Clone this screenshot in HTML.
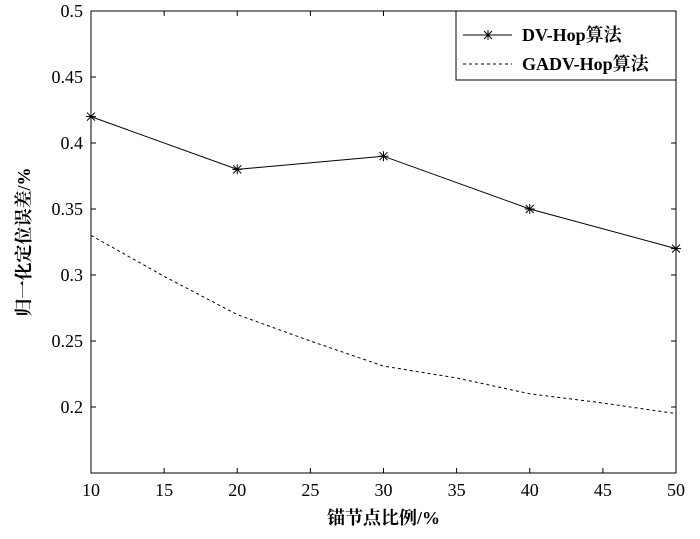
<!DOCTYPE html>
<html><head><meta charset="utf-8"><style>
body{margin:0;background:#fff}
svg text{font-family:"Liberation Serif","Noto Serif CJK SC",serif;fill:#000}
</style></head><body>
<svg width="700" height="534" xmlns="http://www.w3.org/2000/svg">
<g id="plot"></g>
</svg>
<script>
const xCats=[10,20,30,40,50];
const dvHop=[0.42,0.38,0.39,0.35,0.32];
const gaX=[10,15,20,25,30,35,40,45,50];
const gadvHop=[0.33,0.299,0.27,0.25,0.231,0.222,0.21,0.203,0.195];
const xTicks=[10,15,20,25,30,35,40,45,50];
const yTicks=[0.2,0.25,0.3,0.35,0.4,0.45,0.5];
const L=91,R=676,T=11,B=473,xMin=10,xMax=50,yMin=0.15,yMax=0.5;
const sx=v=>L+(v-xMin)/(xMax-xMin)*(R-L);
const sy=v=>B-(v-yMin)/(yMax-yMin)*(B-T);
const g=document.getElementById('plot');
const NS='http://www.w3.org/2000/svg';
function mk(t,a,txt){const e=document.createElementNS(NS,t);for(const k in a)e.setAttribute(k,a[k]);if(txt!==undefined)e.textContent=txt;g.appendChild(e);return e;}
let e=mk('rect',{x:L,y:T,width:R-L,height:B-T,fill:'none',stroke:'#000','stroke-width':1});


xTicks.forEach(v=>{
 mk('line',{x1:sx(v),x2:sx(v),y1:B,y2:B-5,stroke:'#000'});
 mk('line',{x1:sx(v),x2:sx(v),y1:T,y2:T+5,stroke:'#000'});
 const t=mk('text',{x:sx(v),y:B+23,'text-anchor':'middle','font-size':18},String(v));
 
 
});
yTicks.concat([0.15]).forEach(v=>{
 mk('line',{x1:L,x2:L+5,y1:sy(v),y2:sy(v),stroke:'#000'});
 mk('line',{x1:R,x2:R-5,y1:sy(v),y2:sy(v),stroke:'#000'});
});
yTicks.forEach(v=>{
 const t=mk('text',{x:L-8,y:sy(v)+6,'text-anchor':'end','font-size':18},String(v));
 
 
});
let p=mk('polyline',{points:xCats.map((x,i)=>sx(x)+','+sy(dvHop[i])).join(' '),fill:'none',stroke:'#000','stroke-width':1});


function star(cx,cy){const s=5;
 mk('line',{x1:cx-s,x2:cx+s,y1:cy,y2:cy,stroke:'#000'});
 mk('line',{x1:cx,x2:cx,y1:cy-s,y2:cy+s,stroke:'#000'});
 mk('line',{x1:cx-4,x2:cx+4,y1:cy-4,y2:cy+4,stroke:'#000'});
 mk('line',{x1:cx-4,x2:cx+4,y1:cy+4,y2:cy-4,stroke:'#000'});}
xCats.forEach((x,i)=>star(sx(x),sy(dvHop[i])));
let q=mk('polyline',{points:gaX.map((x,i)=>sx(x)+','+sy(gadvHop[i])).join(' '),fill:'none',stroke:'#000','stroke-width':1,'stroke-dasharray':'3,3'});


let lg=mk('rect',{x:456,y:T,width:R-456,height:69,fill:'#fff',stroke:'#000'});


mk('line',{x1:463,x2:512,y1:35,y2:35,stroke:'#000'});star(488,35);
let t1=mk('text',{x:522,y:41,'font-size':18,'font-weight':'bold'},'DV-Hop算法');


mk('line',{x1:463,x2:512,y1:64,y2:64,stroke:'#000','stroke-dasharray':'3,3'});
let t2=mk('text',{x:522,y:70,'font-size':18,'font-weight':'bold'},'GADV-Hop算法');


let xt=mk('text',{x:(L+R)/2,y:524,'text-anchor':'middle','font-size':18,'font-weight':'bold'},'锚节点比例/%');


let yt=mk('text',{x:0,y:0,'text-anchor':'middle','font-size':18,'font-weight':'bold',transform:'translate(30,242) rotate(-90)'},'归一化定位误差/%');


</script>
</body></html>
